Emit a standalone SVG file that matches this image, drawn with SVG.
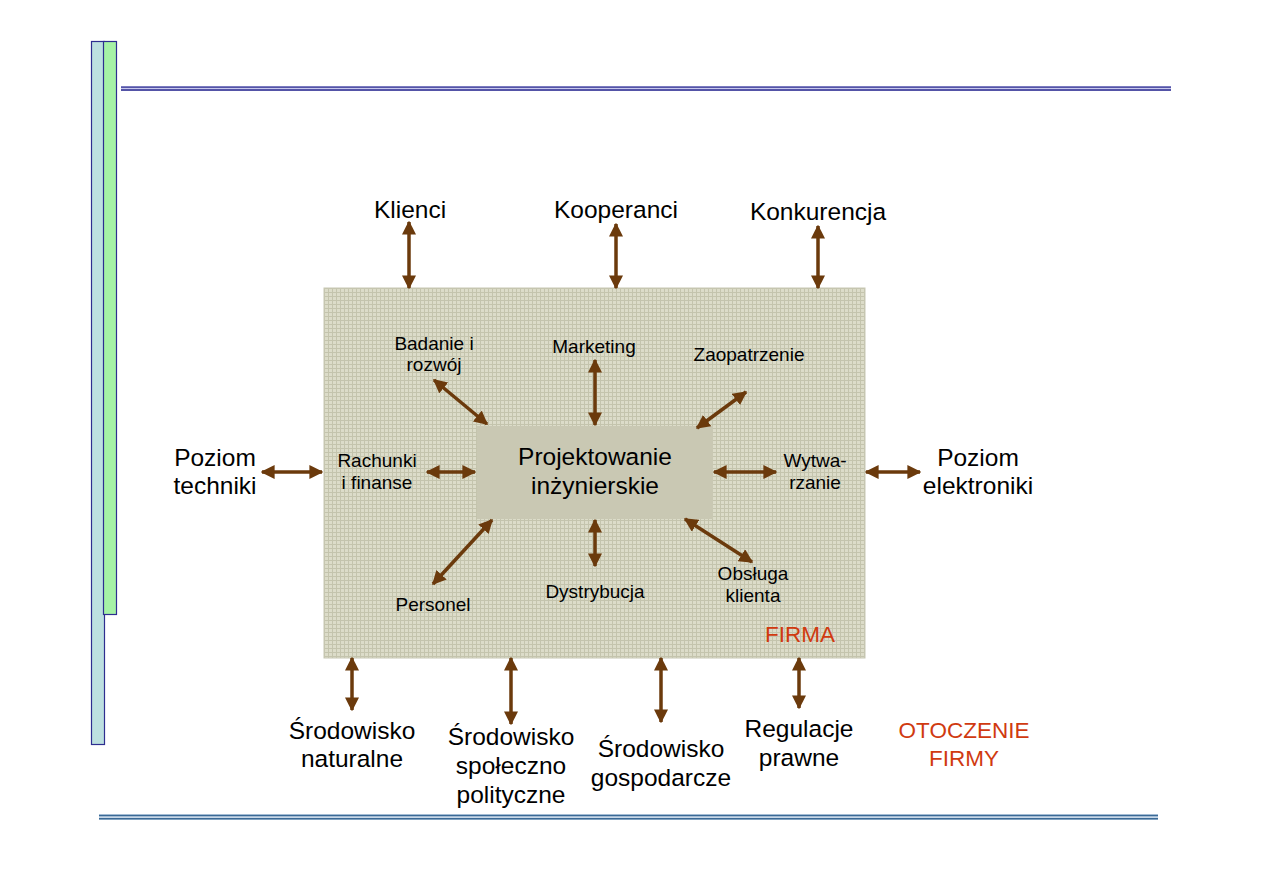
<svg xmlns="http://www.w3.org/2000/svg" width="1263" height="893" viewBox="0 0 1263 893">
<defs>
<pattern id="grid" width="4" height="4" patternUnits="userSpaceOnUse">
<rect width="4" height="4" fill="#dcdcc9"/>
<path d="M0 0.5H4M0.5 0V4" stroke="#c4c4ad" stroke-width="1"/>
</pattern>
<marker id="ah" viewBox="0 0 10 10" refX="9" refY="5" markerWidth="4" markerHeight="4" orient="auto-start-reverse" markerUnits="strokeWidth">
<path d="M0 0L10 5L0 10z" fill="#6b3a0c"/>
</marker>
<style>
.a{stroke:#6b3a0c;stroke-width:3.5;fill:none;marker-start:url(#ah);marker-end:url(#ah)}
.o{font-family:"Liberation Sans",Arial,sans-serif;font-size:24.5px;fill:#000;text-anchor:middle}
.i{font-family:"Liberation Sans",Arial,sans-serif;font-size:19px;fill:#000;text-anchor:middle}
.r{font-family:"Liberation Sans",Arial,sans-serif;fill:#d03a10;text-anchor:middle}
</style>
</defs>
<rect width="1263" height="893" fill="#fff"/>
<g id="decor">
<rect x="91.5" y="41.5" width="13" height="703" fill="#bde0e0" stroke="#2e2e8f" stroke-width="1.2"/>
<rect x="103.5" y="41.5" width="13" height="573" fill="#a6f2a6" stroke="#2e2e8f" stroke-width="1.2"/>
<rect x="121" y="86" width="1050" height="5" fill="#c8c8ee"/>
<line x1="121" y1="87.2" x2="1171" y2="87.2" stroke="#2e2e8f" stroke-width="1.3"/>
<line x1="121" y1="90" x2="1171" y2="90" stroke="#2e2e8f" stroke-width="1.3"/>
<rect x="99" y="814" width="1059" height="6" fill="#c8d8e8"/>
<line x1="99" y1="815.5" x2="1158" y2="815.5" stroke="#3a6a96" stroke-width="1.5"/>
<line x1="99" y1="818.8" x2="1158" y2="818.8" stroke="#3a6a96" stroke-width="1.5"/>
</g>
<g id="firma">
<rect x="324" y="288" width="541" height="370" fill="url(#grid)" stroke="#c8c8b4" stroke-width="1"/>
<text class="r" x="800" y="642" font-size="22.5">FIRMA</text>
</g>
<g id="projektowanie">
<rect x="477" y="426" width="236" height="93" fill="#c9c8b3"/>
<text class="o" x="595" y="465">Projektowanie</text>
<text class="o" x="595" y="494">inżynierskie</text>
</g>
<g id="connectors">
<line class="a" x1="409" y1="222" x2="409" y2="288"/>
<line class="a" x1="616" y1="224" x2="616" y2="288"/>
<line class="a" x1="818" y1="226" x2="818" y2="288"/>
<line class="a" x1="352" y1="658" x2="352" y2="710"/>
<line class="a" x1="511" y1="658" x2="511" y2="724"/>
<line class="a" x1="661" y1="658" x2="661" y2="722"/>
<line class="a" x1="799" y1="658" x2="799" y2="708"/>
<line class="a" x1="262" y1="472" x2="322" y2="472"/>
<line class="a" x1="866" y1="472" x2="920" y2="472"/>
<line class="a" x1="427" y1="472" x2="475" y2="472"/>
<line class="a" x1="714" y1="472" x2="776" y2="472"/>
<line class="a" x1="595" y1="360" x2="595" y2="425"/>
<line class="a" x1="434" y1="380" x2="487" y2="424"/>
<line class="a" x1="746" y1="392" x2="697" y2="428"/>
<line class="a" x1="433" y1="584" x2="492" y2="520"/>
<line class="a" x1="595" y1="520" x2="595" y2="566"/>
<line class="a" x1="685" y1="519" x2="752" y2="562"/>
</g>
<g id="klienci"><text class="o" x="410" y="218">Klienci</text></g>
<g id="kooperanci"><text class="o" x="616" y="218">Kooperanci</text></g>
<g id="konkurencja"><text class="o" x="818" y="220">Konkurencja</text></g>
<g id="poziom-techniki"><text class="o" x="215" y="466">Poziom</text><text class="o" x="215" y="494">techniki</text></g>
<g id="poziom-elektroniki"><text class="o" x="978" y="466">Poziom</text><text class="o" x="978" y="494">elektroniki</text></g>
<g id="badanie"><text class="i" x="434" y="350">Badanie i</text><text class="i" x="434" y="371">rozwój</text></g>
<g id="marketing"><text class="i" x="594" y="353">Marketing</text></g>
<g id="zaopatrzenie"><text class="i" x="749" y="361">Zaopatrzenie</text></g>
<g id="rachunki"><text class="i" x="377" y="467">Rachunki</text><text class="i" x="377" y="489">i finanse</text></g>
<g id="wytwarzanie"><text class="i" x="815" y="467">Wytwa-</text><text class="i" x="815" y="489">rzanie</text></g>
<g id="personel"><text class="i" x="433" y="611">Personel</text></g>
<g id="dystrybucja"><text class="i" x="595" y="598">Dystrybucja</text></g>
<g id="obsluga"><text class="i" x="753" y="580">Obsługa</text><text class="i" x="753" y="602">klienta</text></g>
<g id="srodowisko-naturalne"><text class="o" x="352" y="739">Środowisko</text><text class="o" x="352" y="767">naturalne</text></g>
<g id="srodowisko-spoleczno"><text class="o" x="511" y="745">Środowisko</text><text class="o" x="511" y="774">społeczno</text><text class="o" x="511" y="803">polityczne</text></g>
<g id="srodowisko-gospodarcze"><text class="o" x="661" y="757">Środowisko</text><text class="o" x="661" y="786">gospodarcze</text></g>
<g id="regulacje"><text class="o" x="799" y="737">Regulacje</text><text class="o" x="799" y="766">prawne</text></g>
<g id="otoczenie"><text class="r" x="964" y="738" font-size="22.5">OTOCZENIE</text><text class="r" x="964" y="766" font-size="22.5">FIRMY</text></g>
</svg>
